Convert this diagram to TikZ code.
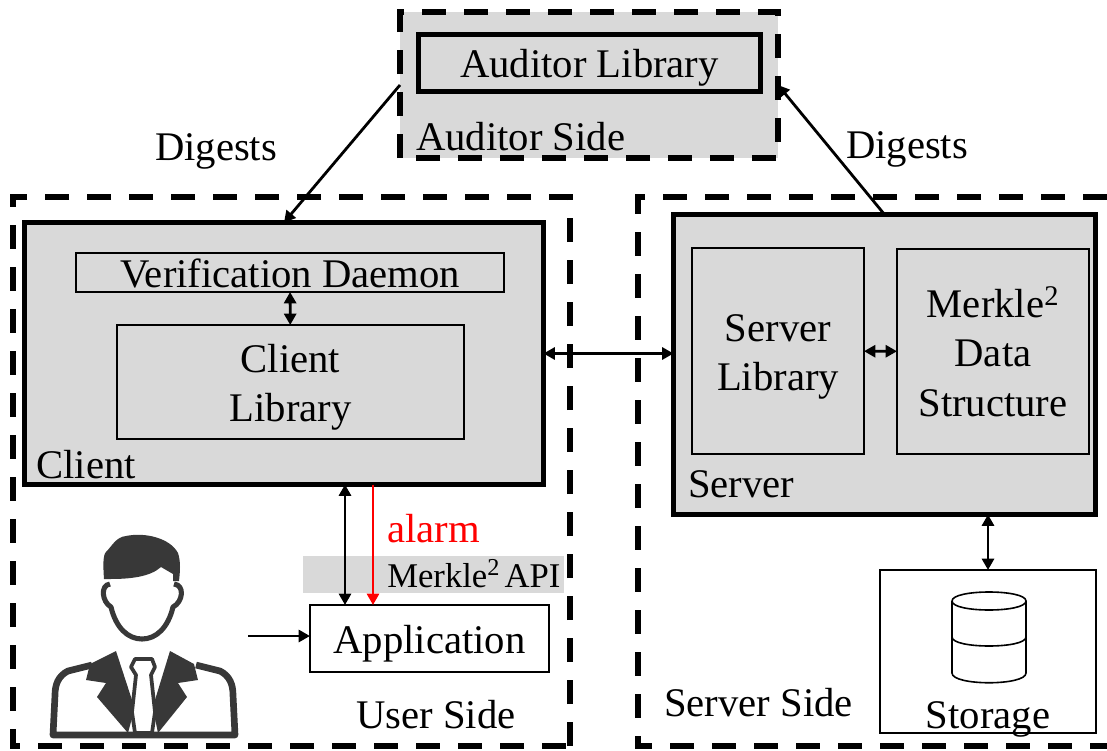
\documentclass[tikz,border=0pt]{standalone}
\usepackage{fontspec}
\setmainfont{Liberation Serif}
\usetikzlibrary{arrows.meta}
\definecolor{boxgray}{HTML}{D9D9D9}
\definecolor{icondark}{HTML}{383838}
\newcommand{\lowtext}{\rule{0pt}{29pt}}
\tikzstyle{region}=[line width=4.2pt,dash pattern=on 18pt off 13.5pt]
\tikzstyle{bigbox}=[rectangle,draw=black,fill=boxgray,line width=3.8pt,outer sep=0pt]
\tikzstyle{innerbox}=[rectangle,draw=black,fill=boxgray,line width=1.3pt,outer sep=0pt,align=center,inner sep=0pt]
\tikzstyle{plainbox}=[rectangle,draw=black,fill=white,line width=1.3pt,outer sep=0pt,inner sep=0pt]
\tikzstyle{tag}=[anchor=west,inner sep=0pt]
\tikzstyle{link}=[line width=2.1pt]
\begin{document}
\begin{tikzpicture}[x=0.75pt,y=-0.75pt,>={Triangle[length=8.5pt,width=9pt]},font=\fontsize{30.5}{37}\selectfont]
            \useasboundingbox (0,0) rectangle (1107,750);

            % AUDITOR PART

            \node[rectangle,fill=boxgray,minimum width=378*0.75pt,minimum height=146*0.75pt,outer sep=0pt] (auditor) at (589,85) {};
            \draw[region] (400,158) -- (400,12) -- (778,12) -- (778,158) -- cycle;
            \node[bigbox,minimum width=342*0.75pt,minimum height=57*0.75pt] (auditorlib) at (589.5,63) {\lowtext Auditor Library};
            \node[tag] (auditorside) at (416,137) {Auditor Side};

            % CLIENT PART

            \draw[region] (570,746) -- (570,197) -- (13,197) -- (13,746) -- (570,746);
            \node[bigbox,minimum width=519*0.75pt,minimum height=262*0.75pt] (client) at (284,353.5) {};
            \node[innerbox,minimum width=428*0.75pt,minimum height=39*0.75pt] (daemon) at (290,272.5) {\rule{0pt}{23.5pt}Verification Daemon};
            \node[innerbox,minimum width=347*0.75pt,minimum height=114*0.75pt] (clientlib) at (290.5,382) {\lowtext Client\\Library};
            \node[tag] (clienttag) at (36,465) {Client};

            \path[link,<->] (daemon) edge (clientlib);

            % USER PART

            \node[rectangle,fill=boxgray,minimum width=261*0.75pt,minimum height=37*0.75pt,outer sep=0pt] (apiband) at (433.5,574.5) {};
            \node[tag,font=\fontsize{26}{30}\selectfont] (apitag) at (387,574) {Merkle\textsuperscript{2}\hspace{0.13em}API};
            \node[plainbox,minimum width=239*0.75pt,minimum height=67*0.75pt] (app) at (429.5,638.5) {\lowtext Application};
            \node[tag,text=red] (alarmtag) at (387,529) {alarm};
            \node[tag] (userside) at (356,715) {User Side};

            \coordinate (apicall) at (345,605);
            \coordinate (alarmcall) at (373,605);
            \coordinate (user) at (248,636);

            \path[link,<->] (client.south -| apicall) edge (apicall);
            \path[link,->,red] (client.south -| alarmcall) edge (alarmcall);
            \path[link,->] (user) edge (user -| app.west);

            % user icon
            \fill[icondark] (104,579) .. controls (103,565) and (103,555) .. (106,552) .. controls (112,546) and (116,537) .. (126,536) .. controls (145,532) and (170,538) .. (178,553) .. controls (181,562) and (180,572) .. (179,581) -- (173,581) -- (173,574) -- (161,567) .. controls (150,577) and (130,579) .. (110,579) -- cycle;
            \draw[icondark,line width=3.8pt,line join=round] (110,584) .. controls (100,585) and (102,602) .. (111,607) .. controls (116,628) and (128,639) .. (142,639) .. controls (156,639) and (168,628) .. (173,607) .. controls (183,602) and (185,585) .. (174,584);
            \draw[icondark,line width=5pt,line join=round] (92,665) -- (68,671) .. controls (58,676) and (55,685) .. (55,695) -- (53,735) -- (235,735) -- (233,695) .. controls (233,685) and (230,676) .. (220,671) -- (196,665);
            \fill[icondark] (116,651) -- (132,700) -- (132,718) -- (128,733) -- (97,697) -- (106,683) -- (86,680) -- (90,664) -- cycle;
            \fill[icondark] (170,651) -- (155,700) -- (155,718) -- (158,733) -- (187,697) -- (178,683) -- (198,680) -- (194,664) -- cycle;
            \draw[icondark,fill=white,line width=2.8pt,line join=round] (135,659) -- (152,659) -- (155,667) -- (151,675) -- (155,712) -- (152,733) -- (135,733) -- (132,712) -- (136,675) -- (131,667) -- cycle;

            % SERVER PART

            \draw[region] (1107,197) -- (638,197) -- (638,746) -- (1107,746);
            \node[bigbox,minimum width=422*0.75pt,minimum height=300*0.75pt] (server) at (884.5,364.5) {};
            \node[innerbox,minimum width=172*0.75pt,minimum height=206*0.75pt] (serverlib) at (778,351) {\lowtext Server\\Library};
            \node[innerbox,minimum width=192*0.75pt,minimum height=205*0.75pt] (merkle) at (993,351.5) {\rule{0pt}{22pt}Merkle\textsuperscript{2}\\Data\\Structure};
            \node[tag] (servertag) at (688,484) {Server};
            \node[tag] (serverside) at (664,703) {Server Side};

            \path[link,<->] (serverlib) edge (merkle);

            % STORAGE PART

            \node[plainbox,minimum width=216*0.75pt,minimum height=163*0.75pt] (storage) at (988,651.5) {};
            \node[inner sep=0pt] (storagetag) at (988,719) {Storage};
            \draw[line width=1.2pt,fill=white] (952,601) -- (952,673) .. controls (952,686) and (1026,686) .. (1026,673) -- (1026,601);
            \draw[line width=1.2pt] (952,601) .. controls (952,589) and (1026,589) .. (1026,601) .. controls (1026,613) and (952,613) .. (952,601);
            \draw[line width=1.2pt] (952,637) .. controls (952,649) and (1026,649) .. (1026,637);

            \path[link,<->] (storage.north |- server.south) edge (storage.north);

            % Connections of Sides

            \path[link,<->] (client.east) edge (client.east -| server.west);
            \path[link,->] (auditor.west) edge (client.north);
            \path[link,->] (server.north) edge (auditor.east);

            \node[inner sep=0pt] (digestl) at (216,151) {Digests};
            \node[inner sep=0pt] (digestr) at (907,149) {Digests};

        \end{tikzpicture}
\end{document}
